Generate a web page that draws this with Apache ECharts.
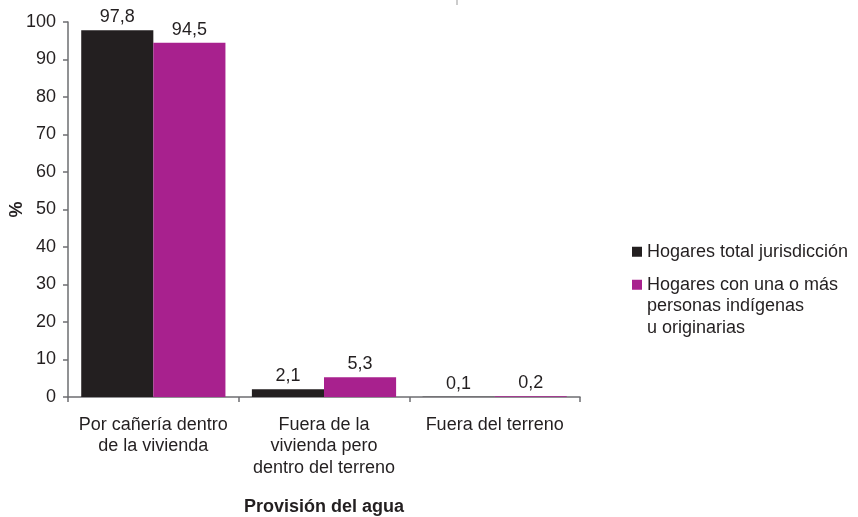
<!DOCTYPE html>
<html>
<head>
<meta charset="utf-8">
<script src="https://cdn.jsdelivr.net/npm/echarts@6/dist/echarts.min.js"></script>
<style>
  html, body { margin: 0; padding: 0; background: #fff; }
  #chart { width: 858px; height: 517px; }
</style>
</head>
<body>
<div id="chart"></div>
<script>
// datos
const categorias = ['Por cañería dentro\nde la vivienda', 'Fuera de la\nvivienda pero\ndentro del terreno', 'Fuera del terreno']
const hogaresTotal = [97.8, 2.1, 0.1]
const hogaresIndigenas = [94.5, 5.3, 0.2]
const yTicks = { min: 0, max: 100, interval: 10 }

const TEXT = '#231f20'
const AXIS = '#6d6e71'
const FONT = 'Liberation Sans, Arial, sans-serif'
const FS = 18

const labelComa = (p) => String(p.value).replace('.', ',')

const chart = echarts.init(document.getElementById('chart'))
chart.setOption({
  animation: false,
  textStyle: { fontFamily: FONT, color: TEXT },
  grid: { left: 68, top: 22, right: 278, bottom: 120, outerBoundsMode: 'none' },
  legend: [{
    left: 627,
    top: 236,
    orient: 'vertical',
    icon: 'rect',
    itemWidth: 10,
    itemHeight: 10,
    data: ['Hogares total jurisdicción'],
    textStyle: { fontSize: FS, color: TEXT, fontFamily: FONT, lineHeight: 21.5 }
  }, {
    left: 627,
    top: 226,
    orient: 'vertical',
    icon: 'rect',
    itemWidth: 10,
    itemHeight: 10,
    data: ['Hogares con una o más personas indígenas u originarias'],
    // lineas vacias arriba para alinear el cuadro con la primera linea
    formatter: () => '\n\nHogares con una o más\npersonas indígenas\nu originarias',
    textStyle: { fontSize: FS, color: TEXT, fontFamily: FONT, lineHeight: 21.5 }
  }],
  xAxis: {
    type: 'category',
    data: categorias,
    name: 'Provisión del agua',
    nameLocation: 'middle',
    nameGap: 101,
    nameTextStyle: { fontSize: FS, fontWeight: 'bold', color: TEXT },
    axisLine: { lineStyle: { color: AXIS, width: 1.5 } },
    axisTick: { show: true, length: 5, lineStyle: { color: AXIS, width: 1.5 } },
    axisLabel: { interval: 0, fontSize: FS, color: TEXT, lineHeight: 21.5, margin: 17 }
  },
  yAxis: {
    type: 'value',
    min: yTicks.min,
    max: yTicks.max,
    interval: yTicks.interval,
    name: '%',
    nameLocation: 'middle',
    nameGap: 42,
    nameRotate: 90,
    nameMoveOverlap: false,
    nameTextStyle: { fontSize: FS, fontWeight: 'bold', color: TEXT },
    axisLine: { show: true, lineStyle: { color: AXIS, width: 1.5 } },
    axisTick: { show: true, length: 5, lineStyle: { color: AXIS, width: 1.5 } },
    splitLine: { show: false },
    axisLabel: { fontSize: FS, color: TEXT, margin: 12 }
  },
  series: [{
    name: 'Hogares total jurisdicción',
    type: 'bar',
    data: hogaresTotal,
    barGap: '0%',
    barCategoryGap: '15.5%',
    itemStyle: { color: '#231f20' },
    label: { show: true, position: 'top', distance: 4, fontSize: FS, color: TEXT, formatter: labelComa }
  }, {
    name: 'Hogares con una o más personas indígenas u originarias',
    type: 'bar',
    data: hogaresIndigenas,
    barGap: '0%',
    barCategoryGap: '15.5%',
    itemStyle: { color: '#a8218e' },
    label: { show: true, position: 'top', distance: 4, fontSize: FS, color: TEXT, formatter: labelComa }
  }],
  graphic: [{
    type: 'line',
    shape: { x1: 457, y1: 0, x2: 457, y2: 5 },
    style: { stroke: '#bbbbbb', lineWidth: 1.5 }
  }]
})
</script>
</body>
</html>
